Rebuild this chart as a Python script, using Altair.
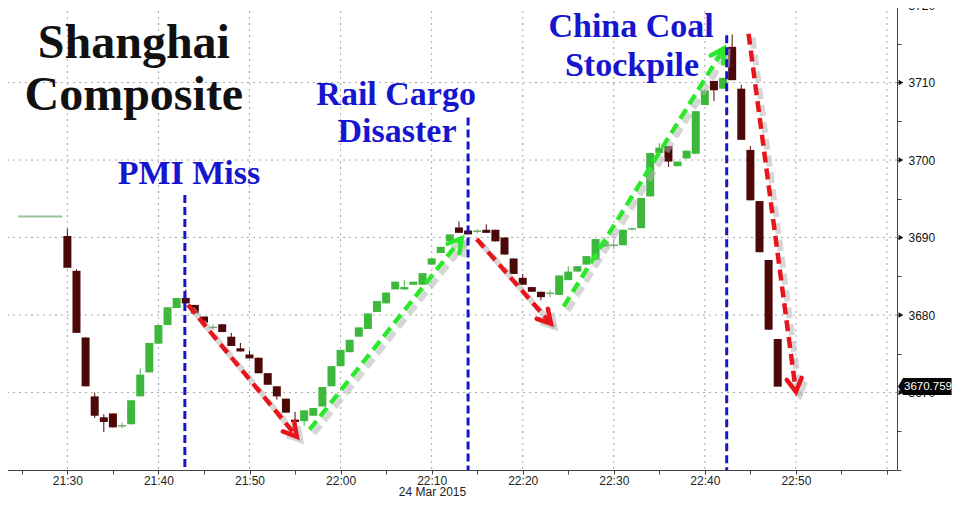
import math
import altair as alt
import pandas as pd

# ---------------- data (minutes after 21:30, 24 Mar 2015) ----------------
minutes = list(range(79))
opens = [3690.2, 3685.7, 3677.1, 3669.5, 3666.8, 3667.3, 3665.7, 3665.9, 3669.5, 3672.6,
         3676.3, 3678.7, 3680.9, 3682.2, 3681.3, 3679.8, 3678.4, 3678.8, 3677.2, 3675.7,
         3674.9, 3674.5, 3672.5, 3670.8, 3669.2, 3666.5, 3666.3, 3667.0, 3668.2, 3670.8,
         3673.4, 3675.2, 3677.2, 3678.2, 3680.4, 3681.5, 3683.3, 3683.3, 3683.9, 3683.9,
         3686.5, 3688.0, 3689.5, 3691.3, 3690.9, 3690.8, 3691.0, 3691.0, 3690.0, 3687.3,
         3684.8, 3683.6, 3683.0, 3682.8, 3682.6, 3684.5, 3685.6, 3686.5, 3687.1, 3688.8,
         3689.0, 3689.0, 3691.1, 3691.2, 3695.3, 3700.9, 3701.8, 3699.2, 3700.2, 3700.8,
         3707.1, 3710.2, 3709.2, 3714.6, 3709.2, 3701.3, 3694.7, 3687.1, 3676.9]
highs = [3691.1, 3685.9, 3677.1, 3670.0, 3667.2, 3667.3, 3666.1, 3669.0, 3673.1, 3676.4,
         3678.7, 3681.0, 3682.2, 3683.3, 3681.3, 3679.8, 3678.8, 3678.8, 3677.7, 3676.4,
         3675.4, 3674.5, 3672.5, 3670.8, 3669.2, 3667.5, 3667.7, 3668.0, 3670.7, 3673.4,
         3675.5, 3676.8, 3678.4, 3680.2, 3681.8, 3682.9, 3684.3, 3684.5, 3684.3, 3685.4,
         3687.3, 3688.8, 3690.4, 3692.1, 3690.9, 3691.1, 3691.7, 3691.0, 3690.0, 3687.3,
         3685.3, 3683.6, 3683.0, 3683.2, 3685.1, 3686.3, 3686.3, 3687.6, 3689.8, 3690.0,
         3689.6, 3691.0, 3691.3, 3695.1, 3700.9, 3702.2, 3701.8, 3699.8, 3701.2, 3706.3,
         3709.0, 3710.2, 3710.6, 3716.2, 3709.7, 3701.8, 3694.7, 3687.1, 3676.9]
lows = [3686.1, 3677.7, 3670.8, 3666.7, 3664.9, 3665.5, 3665.4, 3665.9, 3669.5, 3672.6,
        3676.3, 3678.7, 3680.9, 3681.5, 3680.2, 3679.0, 3678.1, 3677.8, 3676.0, 3675.3,
        3674.4, 3672.5, 3671.0, 3669.1, 3667.4, 3666.2, 3665.7, 3667.0, 3668.2, 3670.8,
        3673.4, 3675.2, 3677.2, 3678.2, 3680.4, 3681.5, 3683.3, 3683.3, 3683.9, 3683.9,
        3686.5, 3688.0, 3689.5, 3690.6, 3690.4, 3690.5, 3690.6, 3689.5, 3687.8, 3685.3,
        3683.9, 3683.0, 3681.9, 3682.3, 3682.6, 3684.5, 3685.6, 3686.5, 3687.1, 3688.8,
        3688.5, 3689.0, 3690.9, 3691.2, 3695.3, 3700.9, 3699.1, 3699.2, 3700.2, 3700.8,
        3707.1, 3707.6, 3709.2, 3710.3, 3702.6, 3694.8, 3688.1, 3678.1, 3670.759]
closes = [3686.1, 3677.7, 3670.8, 3667.0, 3666.2, 3665.5, 3665.7, 3669.0, 3672.3, 3676.4,
          3678.7, 3681.0, 3682.2, 3681.5, 3680.2, 3679.0, 3678.4, 3677.8, 3676.0, 3675.3,
          3674.4, 3672.5, 3671.0, 3669.5, 3667.4, 3666.2, 3667.7, 3668.0, 3670.7, 3673.4,
          3675.5, 3676.8, 3678.4, 3680.2, 3681.8, 3682.9, 3684.3, 3683.6, 3684.3, 3685.4,
          3687.3, 3688.8, 3690.4, 3690.6, 3690.4, 3690.8, 3690.6, 3689.5, 3687.8, 3685.3,
          3683.9, 3683.0, 3682.3, 3682.8, 3685.1, 3685.6, 3686.3, 3687.6, 3689.8, 3689.5,
          3689.0, 3691.0, 3691.1, 3695.1, 3700.9, 3701.6, 3699.8, 3699.8, 3701.2, 3706.3,
          3709.0, 3709.0, 3710.6, 3710.3, 3702.6, 3694.8, 3688.1, 3678.1, 3670.759]

last_price = 3670.759
prev_close = 3692.7
prev_close_span = [-5.4, -0.55]

event_names = ["PMI Miss", "Rail Cargo Disaster", "China Coal Stockpile"]
event_minutes = [12.9, 44.0, 72.4]
event_tops = [3695.5, 3705.5, 3716.1]

text_lines = ["Shanghai", "Composite", "PMI Miss", "Rail Cargo", "Disaster", "China Coal", "Stockpile"]
text_t = [7.3, 7.3, 13.35, 36.1, 36.2, 61.9, 62.0]
text_p = [3713.2, 3706.4, 3696.9, 3707.1, 3702.3, 3715.9, 3710.9]
text_kind = ["title", "title", "event", "event", "event", "event", "event"]

arrow_colors = ["#e8161c", "#2ce82c", "#e8161c", "#2ce82c", "#e8161c"]
arrow_t0 = [13.25, 26.6, 44.95, 54.5, 74.8]
arrow_p0 = [3681.3, 3665.2, 3689.8, 3681.1, 3716.3]
arrow_t1 = [25.2, 43.3, 53.1, 72.1, 80.0]
arrow_p1 = [3664.3, 3689.9, 3678.9, 3714.4, 3670.1]

x_ticks = list(range(-5, 95, 5))
y_ticks = list(range(3660, 3725, 5))
grid_x = list(range(0, 100, 10))
grid_y = list(range(3670, 3730, 10))

# ---------------- layout ----------------
W, H = 892, 465
XDOM = [-6.3, 90.55]
YDOM = [3660, 3720]
px_min = W / (XDOM[1] - XDOM[0])
px_pt = H / (YDOM[1] - YDOM[0])

GREEN = "#3db83d"
DARK = "#4d0808"
FLAT = "#6aaa6a"
BLUE = "#1616d0"

xs = alt.Scale(domain=XDOM, nice=False, zero=False)
ys = alt.Scale(domain=YDOM, nice=False, zero=False)

x_label = ("(datum.value % 10 == 0 && datum.value >= 0 && datum.value <= 80) ? "
           "floor((1290 + datum.value) / 60) + ':' + "
           "(((1290 + datum.value) % 60) < 10 ? '0' : '') + ((1290 + datum.value) % 60) : ''")
x_axis = alt.Axis(values=x_ticks, labelExpr=x_label, tickSize=4, tickColor="#444",
                  domainColor="#444", labelFontSize=12, labelFont="Liberation Sans",
                  labelColor="#222", labelPadding=1, labelOverlap=False, labelFlush=False,
                  grid=False, title="24 Mar 2015", titleFontSize=12, titleFontWeight="normal",
                  titleFont="Liberation Sans", titleColor="#222", titleX=427, titleY=25.5,
                  titleBaseline="alphabetic", titleAlign="center")
y_axis = alt.Axis(orient="right", values=y_ticks,
                  labelExpr="(datum.value % 10 == 0 && datum.value > 3660) ? datum.label : ''",
                  format="d", tickSize=4, tickColor="#444", domainColor="#444",
                  labelPadding=7, labelFontSize=12, labelFont="Liberation Sans",
                  labelColor="#111", labelOverlap=False, labelFlush=False, grid=False,
                  title=None)


def X(field):
    return alt.X(field, scale=xs, axis=x_axis)


def Y(field):
    return alt.Y(field, scale=ys, axis=y_axis)


candles = pd.DataFrame({"t": minutes, "o": opens, "h": highs, "l": lows, "c": closes})
candles["dir"] = ["up" if c > o else ("down" if c < o else "flat") for o, c in zip(opens, closes)]
dir_scale = alt.Scale(domain=["up", "down", "flat"], range=[GREEN, DARK, FLAT])

# grid
gx = alt.Chart(pd.DataFrame({"t": grid_x})).mark_rule(
    color="#a8a8a8", strokeWidth=1, strokeDash=[2, 4]).encode(x=X("t:Q"))
gy = alt.Chart(pd.DataFrame({"p": grid_y})).mark_rule(
    color="#a8a8a8", strokeWidth=1, strokeDash=[2, 4]).encode(y=Y("p:Q"))

prev = alt.Chart(pd.DataFrame({"t0": [prev_close_span[0]], "t1": [prev_close_span[1]],
                               "p": [prev_close]})).mark_rule(
    color="#95c595", strokeWidth=2).encode(x=X("t0:Q"), x2="t1:Q", y=Y("p:Q"))

wicks = alt.Chart(candles).mark_rule(strokeWidth=1).encode(
    x=X("t:Q"), y=Y("h:Q"), y2="l:Q",
    color=alt.Color("dir:N", scale=dir_scale, legend=None))
bodies = alt.Chart(candles).mark_bar(width=8).encode(
    x=X("t:Q"), y=Y("o:Q"), y2="c:Q",
    color=alt.Color("dir:N", scale=dir_scale, legend=None))
dojis = alt.Chart(candles).transform_filter("datum.dir == 'flat'").transform_calculate(
    a="datum.t - 0.45", b="datum.t + 0.45").mark_rule(color=FLAT, strokeWidth=1.5).encode(
    x=X("a:Q"), x2="b:Q", y=Y("o:Q"))

# arrows
rows = []
heads = []
for i, (col, t0, p0, t1, p1) in enumerate(zip(arrow_colors, arrow_t0, arrow_p0, arrow_t1, arrow_p1)):
    rows.append({"id": i, "k": 0, "t": t0, "p": p0, "col": col})
    rows.append({"id": i, "k": 1, "t": t1, "p": p1, "col": col})
    dx = (t1 - t0) * px_min
    dy = -(p1 - p0) * px_pt
    ang = math.degrees(math.atan2(dx, -dy)) % 360
    heads.append({"t": t1, "p": p1, "ang": ang, "col": col})
arrows = pd.DataFrame(rows)
heads = pd.DataFrame(heads)

HEAD = "M -0.5 0.87 L 0 0 L 0.5 0.87"
shaft_shadow = alt.Chart(arrows).mark_line(
    color="#b4b4b4", opacity=0.55, strokeWidth=6, strokeDash=[11, 6], xOffset=4, yOffset=4).encode(
    x=X("t:Q"), y=Y("p:Q"), detail="id:N", order="k:Q")
head_shadow = alt.Chart(heads).mark_point(
    shape=HEAD, size=900, filled=False, strokeWidth=5, color="#b4b4b4", opacity=0.55,
    xOffset=4, yOffset=4).encode(
    x=X("t:Q"), y=Y("p:Q"), angle=alt.Angle("ang:Q", scale=None))
shaft = alt.Chart(arrows).mark_line(strokeWidth=4.5, strokeDash=[11, 6]).encode(
    x=X("t:Q"), y=Y("p:Q"), detail="id:N", order="k:Q", color=alt.Color("col:N", scale=None))
head = alt.Chart(heads).mark_point(
    shape=HEAD, size=900, filled=False, strokeWidth=4.5, opacity=1, strokeCap="round").encode(
    x=X("t:Q"), y=Y("p:Q"), angle=alt.Angle("ang:Q", scale=None),
    color=alt.Color("col:N", scale=None))

# event lines
events = pd.DataFrame({"name": event_names, "t": event_minutes, "top": event_tops,
                       "bottom": [YDOM[0]] * 3})
ev = alt.Chart(events).mark_rule(color=BLUE, strokeWidth=3, strokeDash=[8, 4]).encode(
    x=X("t:Q"), y=Y("top:Q"), y2="bottom:Q")

texts = pd.DataFrame({"txt": text_lines, "t": text_t, "p": text_p, "kind": text_kind})
title_txt = alt.Chart(texts).transform_filter("datum.kind == 'title'").mark_text(
    font="Liberation Serif", fontWeight="bold", fontSize=48, color="#111",
    align="center", baseline="alphabetic").encode(x=X("t:Q"), y=Y("p:Q"), text="txt:N")
event_txt = alt.Chart(texts).transform_filter("datum.kind == 'event'").mark_text(
    font="Liberation Serif", fontWeight="bold", fontSize=34, color=BLUE,
    align="center", baseline="alphabetic").encode(x=X("t:Q"), y=Y("p:Q"), text="txt:N")

# right-axis tick markers and last-price tag
markers = alt.Chart(pd.DataFrame({"p": grid_y})).mark_point(
    shape="triangle-right", filled=True, size=30, color="#111", opacity=1).encode(
    x=alt.value(W + 4), y=Y("p:Q"))
last = pd.DataFrame({"p": [last_price], "lbl": [f"{last_price:.3f}"]})
tag = alt.Chart(last).mark_point(
    shape="M 0 0 L 0.6 -1 L 6.3 -1 L 6.3 1 L 0.6 1 Z", size=289, filled=True,
    color="#050505", opacity=1).encode(x=alt.value(W + 1), y=Y("p:Q"))
tag_txt = alt.Chart(last).mark_text(
    font="Liberation Sans", fontSize=11.5, color="white", align="left", baseline="middle").encode(
    x=alt.value(W + 7), y=Y("p:Q"), text="lbl:N")

chart = alt.layer(
    gx, gy, prev, wicks, bodies, dojis, shaft_shadow, head_shadow, shaft, head, ev,
    title_txt, event_txt, markers, tag, tag_txt
).resolve_scale(x="shared", y="shared").resolve_axis(x="shared", y="shared").properties(
    width=W, height=H,
    padding={"left": -3, "top": -3, "right": 55, "bottom": 27},
    autosize=alt.AutoSizeParams(type="none"),
    background="white",
).configure_view(stroke=None)

chart.save("out.html", embed_options={"renderer": "svg", "actions": False})
